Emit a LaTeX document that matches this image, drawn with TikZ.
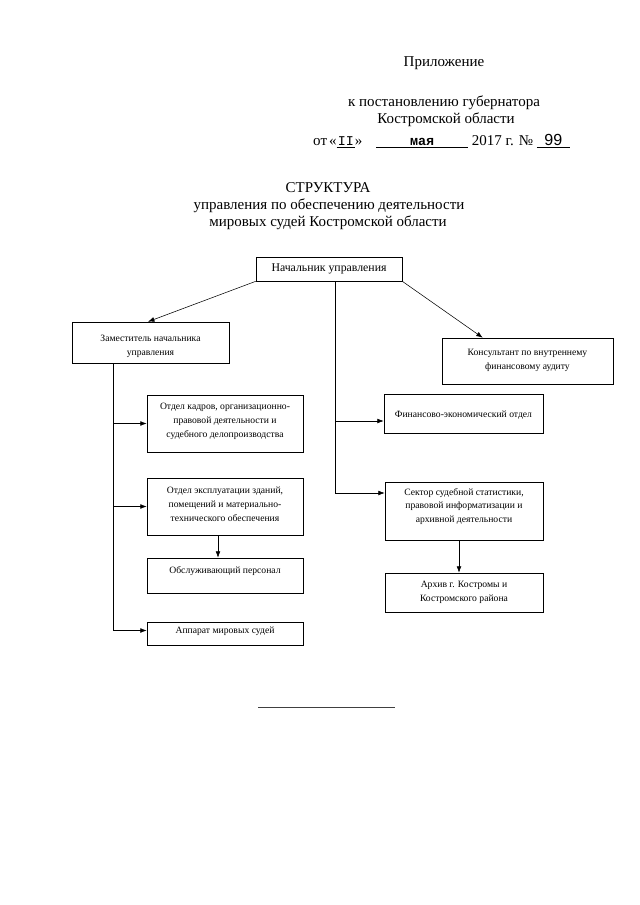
\documentclass[tikz,border=0pt]{standalone}
\usepackage{fontspec}
\setmainfont{Liberation Serif}
\newfontfamily\stampmono{Liberation Mono}
\newfontfamily\stampsans{Liberation Sans}
\usetikzlibrary{arrows.meta}
\newdimen\pxu \pxu=0.328mm

\tikzset{
  box/.style={draw, line width=0.6pt, inner sep=0pt},
  boxtext/.style={align=center, inner sep=0pt, font=\fontsize{9}{13}\selectfont},
  link/.style={line width=0.5pt},
  arr/.style={link, -{Latex[length=6pt,width=4.5pt]}},
  head/.style={anchor=base, inner sep=0pt, font=\fontsize{14}{16}\selectfont}
}

\begin{document}
\begin{tikzpicture}[x=1\pxu, y=-1\pxu]
  \useasboundingbox (0,0) rectangle (640,905);
  % header
  \node[head] (pril) at (444,67) {Приложение};
  \node[head] (post) at (444,106.5) {к постановлению губернатора};
  \node[head] (obl) at (446,124) {Костромской области};
  \node[head, anchor=base west] (date) at (313,146)
    {от\kern2pt«\underline{\makebox[17pt]{\fontsize{12.5}{13}\stampmono II}}»\hspace{13pt}%
     \underline{\makebox[85.6pt]{\fontsize{12.5}{13}\stampmono\bfseries мая}}
     2017 г. № \underline{\makebox[30.7pt]{\fontsize{15}{15}\stampsans 99}}};
  % title
  \node[head] (titl) at (328,193) {СТРУКТУРА};
  \node[head] (tit2) at (329,209) {управления по обеспечению деятельности};
  \node[head] (tit3) at (328,226) {мировых судей Костромской области};
  % boxes
  \node[box, minimum width=146\pxu, minimum height=24\pxu,
    font=\fontsize{11}{14}\selectfont] (nach) at (329,269) {Начальник управления};
  \node[box, minimum width=157\pxu, minimum height=41\pxu] (zam) at (150.5,342.5) {};
  \node[boxtext] (zam-t) at (150.5,346) {Заместитель начальника\\управления};
  \node[box, minimum width=171\pxu, minimum height=46\pxu] (kons) at (527.5,361) {};
  \node[boxtext] (kons-t) at (527.5,360) {Консультант по внутреннему\\финансовому аудиту};
  \node[box, minimum width=156\pxu, minimum height=57\pxu] (kadr) at (225,423.5) {};
  \node[boxtext] (kadr-t) at (225,421.5) {Отдел кадров, организационно-\\правовой деятельности и\\судебного делопроизводства};
  \node[box, minimum width=156\pxu, minimum height=57\pxu] (expl) at (225,506.5) {};
  \node[boxtext] (expl-t) at (225,504.5) {Отдел эксплуатации зданий,\\помещений и материально-\\технического обеспечения};
  \node[box, minimum width=156\pxu, minimum height=35\pxu] (obsl) at (225,575.5) {};
  \node[boxtext] (obsl-t) at (225,571.5) {Обслуживающий персонал};
  \node[box, minimum width=156\pxu, minimum height=23\pxu] (appar) at (225,633.5) {};
  \node[boxtext] (appar-t) at (225,631.5) {Аппарат мировых судей};
  \node[box, minimum width=159\pxu, minimum height=39\pxu] (fin) at (463.5,413.5) {};
  \node[boxtext] (fin-t) at (463.5,415) {Финансово-экономический отдел};
  \node[box, minimum width=158\pxu, minimum height=58\pxu] (sekt) at (464,511) {};
  \node[boxtext] (sekt-t) at (464,506.5) {Сектор судебной статистики,\\правовой информатизации и\\архивной деятельности};
  \node[box, minimum width=158\pxu, minimum height=39\pxu] (arch) at (464,592.5) {};
  \node[boxtext] (arch-t) at (464,592) {Архив г. Костромы и\\Костромского района};
  % connectors
  \draw[arr] (nach.south west) -- ([xshift=-2.5\pxu]zam.north);
  \draw[arr] (nach.south east) -- ([xshift=41\pxu]kons.north west);
  \coordinate (midtop) at ([xshift=6\pxu]nach.south);
  \draw[arr] (midtop) |- ([yshift=18\pxu]sekt.west);
  \draw[arr] (midtop |- 0,421) -- ([yshift=-7.5\pxu]fin.west);
  \coordinate (lefttop) at ([xshift=-37.5\pxu]zam.south);
  \draw[arr] (lefttop) |- ([yshift=3\pxu]appar.west);
  \draw[arr] (lefttop |- kadr.west) -- (kadr.west);
  \draw[arr] (lefttop |- expl.west) -- (expl.west);
  \draw[arr] ([xshift=-7\pxu]expl.south) -- ([xshift=-7\pxu]obsl.north);
  \draw[arr] ([xshift=-5\pxu]sekt.south) -- ([xshift=-5\pxu]arch.north);
  % bottom rule
  \draw[line width=0.6pt, black!75] (258,707) -- (395,707);
\end{tikzpicture}
\end{document}
